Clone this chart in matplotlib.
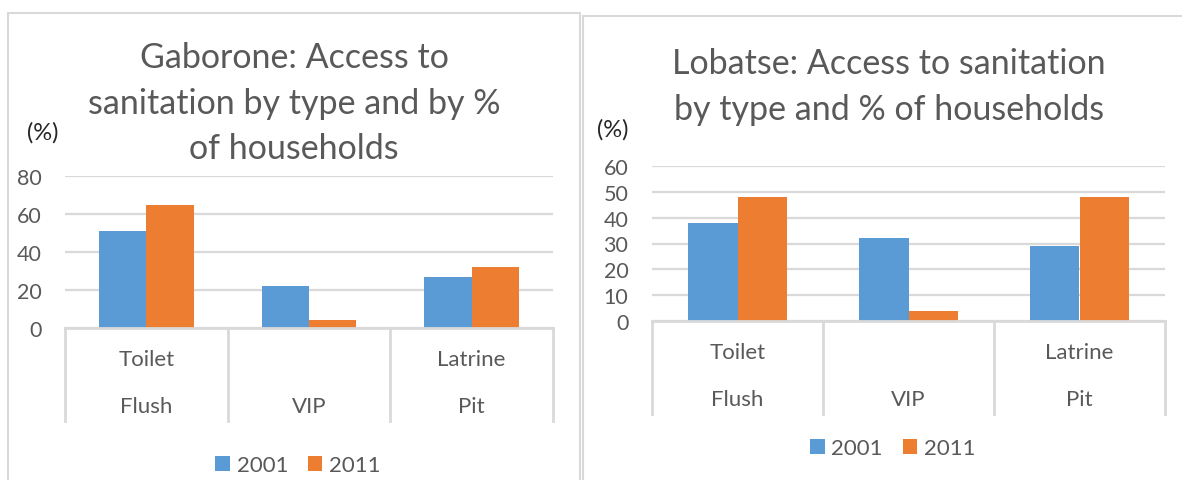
import matplotlib
matplotlib.use("Agg")
import matplotlib.pyplot as plt
import matplotlib.transforms as mtransforms
from matplotlib.patches import Rectangle
import numpy as np

plt.rcParams['font.family'] = ['Lato', 'DejaVu Sans']

# data
types_top = ["Toilet", "", "Latrine"]
types_bottom = ["Flush", "VIP", "Pit"]
years = ["2001", "2011"]

gaborone_2001 = [51, 22, 27]
gaborone_2011 = [65, 4, 32]

lobatse_2001 = [38, 32, 29]
lobatse_2011 = [48, 4, 48]

BLUE = "#5B9BD5"
ORANGE = "#ED7D31"
TXT = "#595959"
GRID = "#D9D9D9"

W, H = 1182, 481
fig = plt.figure(figsize=(W / 100, H / 100), dpi=100)


def px_axes(x0, x1, ytop, ybot):
    # pixel box (origin top-left) -> figure fraction
    return fig.add_axes([x0 / W, 1 - ybot / H, (x1 - x0) / W, (ybot - ytop) / H])


def draw_panel(ax, v1, v2, ymax, step, depth, row1, row2):
    x = np.arange(len(types_bottom))
    bw = 0.29
    ax.bar(x - bw / 2, v1, bw, color=BLUE, label=years[0], zorder=3)
    ax.bar(x + bw / 2, v2, bw, color=ORANGE, label=years[1], zorder=3)
    ax.set_xlim(-0.5, len(x) - 0.5)
    ax.set_ylim(0, ymax)
    ax.set_yticks(np.arange(0, ymax + 1, step))
    ax.set_xticks([])
    ax.yaxis.grid(True, color=GRID, lw=1.6, zorder=0)
    for s in ax.spines.values():
        s.set_visible(False)
    ax.axhline(0, color=GRID, lw=2, zorder=4, clip_on=False)
    ax.tick_params(axis='y', length=0, pad=17, labelsize=15.5, labelcolor=TXT)

    # two-level category axis below the plot
    trans = mtransforms.blended_transform_factory(ax.transData, ax.transAxes)
    for b in np.arange(-0.5, len(x), 1.0):
        ax.plot([b, b], [0, -depth], color=GRID, lw=2, transform=trans, clip_on=False)
    for i in x:
        ax.text(i, -row1, types_top[i], transform=trans, ha='center', va='center',
                fontsize=16, color=TXT)
        ax.text(i, -row2, types_bottom[i], transform=trans, ha='center', va='center',
                fontsize=16, color=TXT)


# panel frames
fig.patches.append(Rectangle((7.5 / W, -0.1), (580 - 7.5) / W, 1.1 - 14 / H,
                             transform=fig.transFigure, fill=False,
                             edgecolor=GRID, lw=1.5))
fig.patches.append(Rectangle((583 / W, -0.1), 1.2, 1.1 - 17 / H,
                             transform=fig.transFigure, fill=False,
                             edgecolor=GRID, lw=1.5))

# Gaborone
ax1 = px_axes(65, 553, 177, 329)
draw_panel(ax1, gaborone_2001, gaborone_2011, 80, 20,
           93 / 152, 31 / 152, 78 / 152)
fig.text(294 / W, 1 - 42 / H,
         "Gaborone: Access to\nsanitation by type and by %\nof households",
         ha='center', va='top', fontsize=24.5, color=TXT, linespacing=1.52)
fig.text(43 / W, 1 - 133 / H, "(%)", ha='center', va='center',
         fontsize=17, color="#262626")
ax1.legend(loc='center', bbox_to_anchor=(298 / W, 1 - 466 / H),
           bbox_transform=fig.transFigure, ncol=2, frameon=False,
           fontsize=16, handlelength=0.65, handleheight=0.65,
           handletextpad=0.3, columnspacing=0.9, labelcolor=TXT)

# Lobatse
ax2 = px_axes(652, 1165, 167, 322)
draw_panel(ax2, lobatse_2001, lobatse_2011, 60, 10,
           93 / 155, 31 / 155, 78 / 155)
fig.text(889 / W, 1 - 48 / H,
         "Lobatse: Access to sanitation\nby type and % of households",
         ha='center', va='top', fontsize=24.5, color=TXT, linespacing=1.52)
fig.text(613 / W, 1 - 130 / H, "(%)", ha='center', va='center',
         fontsize=17, color="#262626")
ax2.legend(loc='center', bbox_to_anchor=(893 / W, 1 - 449 / H),
           bbox_transform=fig.transFigure, ncol=2, frameon=False,
           fontsize=16, handlelength=0.65, handleheight=0.65,
           handletextpad=0.3, columnspacing=0.9, labelcolor=TXT)

fig.savefig("out.png", dpi=100)
